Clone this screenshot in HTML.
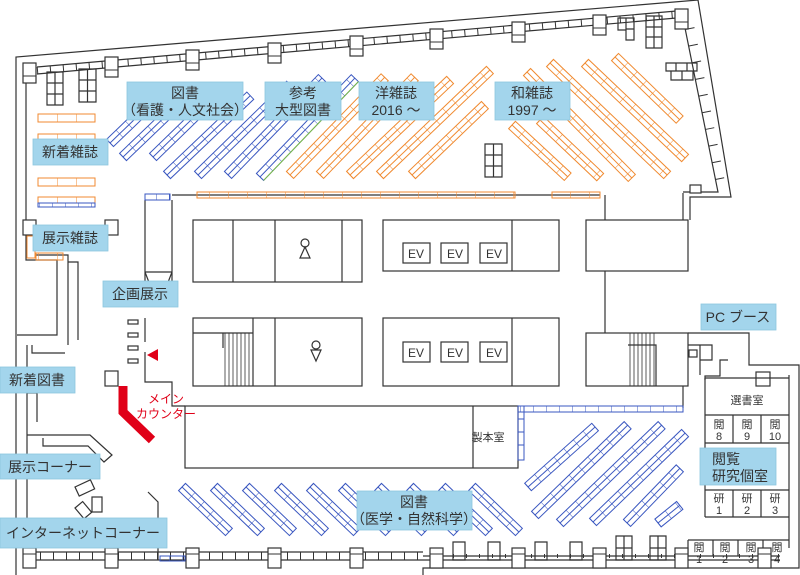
<!DOCTYPE html>
<html><head><meta charset="utf-8">
<style>
html,body{margin:0;padding:0;background:#fff;}
svg{display:block;font-family:"Liberation Sans","Noto Sans CJK JP",sans-serif;}
.w{fill:none;stroke:#333;stroke-width:1.2}
.lb{fill:#a3d5ec;stroke:#8cc6df;stroke-width:.8}
.t{fill:#333;font-size:14px;text-anchor:middle}
.s{fill:#333;font-size:11px;text-anchor:middle}
.b{fill:url(#pB);stroke:#3a57c0;stroke-width:1}
.o{fill:url(#pO);stroke:#f08a30;stroke-width:1}
.b6{fill:url(#pB6);stroke:#3a57c0;stroke-width:1}
.o6{fill:url(#pO6);stroke:#f08a30;stroke-width:1}
.p{fill:#fff;stroke:#333;stroke-width:1.2}
</style></head><body>
<svg width="800" height="575" viewBox="0 0 800 575" xmlns="http://www.w3.org/2000/svg">
<defs>
<pattern id="pB" patternUnits="userSpaceOnUse" x="0" y="-5" width="13" height="10"><path d="M0,0 V10 M0,5 H13" stroke="#3a57c0" stroke-width="1" fill="none"/></pattern>
<pattern id="pO" patternUnits="userSpaceOnUse" x="0" y="-5" width="13" height="10"><path d="M0,0 V10 M0,5 H13" stroke="#f08a30" stroke-width="1" fill="none"/></pattern>
<pattern id="pB6" patternUnits="userSpaceOnUse" x="0" y="0" width="13" height="6"><path d="M0,0 V6" stroke="#3a57c0" stroke-width="1"/></pattern>
<pattern id="pO6" patternUnits="userSpaceOnUse" x="0" y="0" width="19" height="8"><path d="M0,0 V8" stroke="#f08a30" stroke-width="1"/></pattern>
</defs>
<g class="w">
<path d="M16,575 V57 L698,0 L731,197 H690 V220"/>
<path d="M683,193 V220"/>
<path d="M688,333 H749 V365 H799 V568 H423 V575"/>
<path d="M37,67 L688,10"/>
<path d="M37,74 L688,17"/>
<path d="M685,28 L718,192 H683"/>
<path d="M26,83 V260 H57 V335 H17"/>
<path d="M36,255 H68 V345"/>
<path d="M68,262 H78 V340"/>
<path d="M32,345 V353 H65"/>
<path d="M27,345 V560 H440"/>
<path d="M27,393 H37 V422"/>
<path d="M27,435 H90 L112,455 L104,462 L88,446 H43 V438"/>
<path d="M148,492 L158,502 V560"/>
<path d="M27,552 H423"/>
<path d="M423,556 H780"/>
<path d="M440,560 H780"/>
<path d="M172,195 H600"/>
<path d="M145,200 V285 M172,200 V285"/>
<path d="M145,272 L150,285 M172,272 L167,285 M145,272 H172"/>
<path d="M145,318 V342 M145,352 V382 H172 V406 H185"/>
<path d="M605,195 V220 M605,271 V333"/>
<rect x="193" y="220" width="169" height="62"/>
<path d="M233,220 V282 M275,220 V282 M342,220 V282"/>
<rect x="383" y="220" width="176" height="51"/>
<path d="M512,220 V271"/>
<rect x="586" y="220" width="102" height="51"/>
<rect x="193" y="318" width="169" height="68"/>
<path d="M193,333 H253 M223,333 V348 M253,318 V386 M275,318 V386"/>
<path d="M225,333 V386 M229,333 V386 M233,333 V386 M237,333 V386 M241,333 V386 M245,333 V386 M249,333 V386" stroke-width=".8"/>
<rect x="383" y="318" width="176" height="68"/>
<path d="M512,318 V386"/>
<rect x="586" y="333" width="102" height="53"/>
<path d="M628,345 H656 V386"/>
<path d="M630,333 V386 M634,333 V386 M638,333 V386 M642,333 V386 M646,333 V386 M650,333 V386 M654,333 V386" stroke-width=".8"/>
<rect x="185" y="406" width="333" height="62"/>
<path d="M473,406 V468"/>
<path d="M683,386 V408"/>
<path d="M688,345 H712 V360 H700 V375 M700,345 V360 M728,360 H720 V376 H705 V380"/>
<rect x="689" y="350" width="8" height="7"/>
<path d="M789,375 V548 M705,378 V517 M705,378 H789"/>
<rect x="756" y="372" width="14" height="14"/>
<path d="M705,415 H789 M705,443 H789 M733,415 V443 M761,415 V443"/>
<path d="M705,490 H789 M705,517 H789 M733,490 V517 M761,490 V517"/>
<path d="M688,540 H789 M688,540 V556 M713,540 V556 M738,540 V556 M763,540 V556"/>
<path d="M47,72 h16 v33 h-16 z M55,72 v33 M47,83 h16 M47,94 h16"/>
<path d="M79,69 h17 v33 h-17 z M87.5,69 v33 M79,80 h17 M79,91 h17"/>
<path d="M485,144 h17 v33 h-17 z M493.5,144 v33 M485,155 h17 M485,166 h17"/>
<path d="M646,16 h16 v32 h-16 z M654,16 v32 M646,27 h16 M646,37 h16"/>
<path d="M618,18 h8 v12 h-8 z M626,18 h8 v22 h-8 z M626,29 h8"/>
<path d="M666,63 h31 v8 h-31 z M676,63 v8 M687,63 v8 M671,71 h22 v9 h-22 z M682,71 v9"/>
<path d="M616,536 h16 v24 h-16 z M624,536 v24 M616,548 h16 M650,536 h16 v24 h-16 z M658,536 v24 M650,548 h16"/>
<path d="M453,542 h12 v18 h-12 z M488,542 h12 v18 h-12 z M535,542 h12 v18 h-12 z M570,542 h12 v18 h-12 z"/>
<rect x="75" y="487" width="17" height="10" transform="rotate(-25 75 487)"/>
<rect x="92" y="497" width="10" height="15"/>
<rect x="75" y="508" width="10" height="14" transform="rotate(-40 75 508)"/>
<rect x="128" y="320" width="10" height="4"/><rect x="128" y="333" width="10" height="4"/><rect x="128" y="346" width="10" height="4"/><rect x="128" y="359" width="10" height="4"/>
</g>
<path d="M37,70.5 L688,13.5" stroke="#333" stroke-width="7" stroke-dasharray="1 12" fill="none"/>
<path d="M27,556 H423" stroke="#333" stroke-width="8" stroke-dasharray="1 12" fill="none"/>
<path d="M440,556 H780" stroke="#333" stroke-width="4" stroke-dasharray="1 12" fill="none"/>
<path d="M690,28 L722,190" stroke="#333" stroke-width="9" stroke-dasharray="1 16" fill="none"/>
<g class="p">
<rect x="23" y="63" width="13" height="20"/><rect x="105" y="57" width="13" height="20"/><rect x="186" y="50" width="13" height="20"/>
<rect x="268" y="43" width="13" height="20"/><rect x="350" y="36" width="13" height="20"/><rect x="430" y="29" width="13" height="20"/>
<rect x="512" y="22" width="13" height="20"/><rect x="593" y="15" width="13" height="20"/><rect x="675" y="9" width="13" height="20"/>
<rect x="23" y="548" width="13" height="20"/><rect x="105" y="548" width="13" height="20"/><rect x="186" y="548" width="13" height="20"/>
<rect x="268" y="548" width="13" height="20"/><rect x="350" y="548" width="13" height="20"/><rect x="430" y="548" width="13" height="20"/>
<rect x="512" y="548" width="13" height="20"/><rect x="593" y="548" width="13" height="20"/><rect x="675" y="548" width="13" height="20"/>
<rect x="758" y="548" width="13" height="20"/>
<rect x="105" y="371" width="13" height="15"/>
<rect x="690" y="185" width="11" height="8"/>
<rect x="23" y="220" width="13" height="15"/><rect x="105" y="220" width="13" height="15"/>
</g>
<path d="M23,76 h13 M105,70 h13 M186,63 h13 M268,56 h13 M350,49 h13 M430,42 h13 M512,35 h13 M593,28 h13 M675,22 h13" stroke="#333" fill="none"/>
<path d="M23,554 h13 M105,554 h13 M186,554 h13 M268,554 h13 M350,554 h13 M430,554 h13 M512,554 h13 M593,554 h13 M675,554 h13 M758,554 h13" stroke="#333" fill="none"/>
<rect class="b" x="0" y="-5" width="76" height="10" transform="translate(110,143) rotate(-43.9)"/>
<rect class="b" x="0" y="-5" width="100" height="10" transform="translate(123,157) rotate(-43.8)"/>
<rect class="b" x="0" y="-5" width="96" height="10" transform="translate(153,157) rotate(-44.2)"/>
<rect class="b" x="0" y="-5" width="115" height="10" transform="translate(167,175) rotate(-43.6)"/>
<rect class="b" x="0" y="-5" width="129" height="10" transform="translate(198,175) rotate(-44.4)"/>
<rect class="b" x="0" y="-5" width="135" height="10" transform="translate(228,175) rotate(-45.9)"/>
<rect class="b" x="0" y="-5" width="137" height="10" transform="translate(260,177) rotate(-46.2)"/>
<line x1="0" y1="5" x2="137" y2="5" stroke="#7cc040" transform="translate(260,177) rotate(-46.2)"/>
<rect class="o" x="0" y="-5" width="136" height="10" transform="translate(290,175) rotate(-45.9)"/>
<rect class="o" x="0" y="-5" width="136" height="10" transform="translate(320,175) rotate(-45.9)"/>
<rect class="o" x="0" y="-5" width="138" height="10" transform="translate(350,175) rotate(-43.5)"/>
<rect class="o" x="0" y="-5" width="152" height="10" transform="translate(380,175) rotate(-43.7)"/>
<rect class="o" x="0" y="-5" width="101" height="10" transform="translate(412,175) rotate(-43.8)"/>
<rect class="o" x="0" y="-5" width="76" height="10" transform="translate(512,125) rotate(42.9)"/>
<rect class="o" x="0" y="-5" width="83" height="10" transform="translate(540,120) rotate(43.5)"/>
<rect class="o" x="0" y="-5" width="149" height="10" transform="translate(527,72) rotate(45.3)"/>
<rect class="o" x="0" y="-5" width="162" height="10" transform="translate(550,63) rotate(43.7)"/>
<rect class="o" x="0" y="-5" width="138" height="10" transform="translate(585,63) rotate(43.5)"/>
<rect class="o" x="0" y="-5" width="90" height="10" transform="translate(615,57) rotate(44.1)"/>
<rect class="b" x="0" y="-5" width="65" height="10" transform="translate(182,487) rotate(43.8)"/>
<rect class="b" x="0" y="-5" width="65" height="10" transform="translate(214,487) rotate(43.8)"/>
<rect class="b" x="0" y="-5" width="65" height="10" transform="translate(246,487) rotate(43.8)"/>
<rect class="b" x="0" y="-5" width="65" height="10" transform="translate(278,487) rotate(43.8)"/>
<rect class="b" x="0" y="-5" width="65" height="10" transform="translate(310,487) rotate(43.8)"/>
<rect class="b" x="0" y="-5" width="65" height="10" transform="translate(342,487) rotate(43.8)"/>
<rect class="b" x="0" y="-5" width="65" height="10" transform="translate(378,487) rotate(43.8)"/>
<rect class="b" x="0" y="-5" width="65" height="10" transform="translate(410,487) rotate(43.8)"/>
<rect class="b" x="0" y="-5" width="65" height="10" transform="translate(442,487) rotate(43.8)"/>
<rect class="b" x="0" y="-5" width="65" height="10" transform="translate(472,487) rotate(43.8)"/>
<rect class="b" x="0" y="-5" width="90" height="10" transform="translate(528,487) rotate(-41.8)"/>
<rect class="b" x="0" y="-5" width="129" height="10" transform="translate(535,515) rotate(-44.1)"/>
<rect class="b" x="0" y="-5" width="141" height="10" transform="translate(560,523) rotate(-43.9)"/>
<rect class="b" x="0" y="-5" width="128" height="10" transform="translate(593,522) rotate(-44)"/>
<rect class="b" x="0" y="-5" width="76" height="10" transform="translate(627,523) rotate(-46)"/>
<rect class="b" x="0" y="-5" width="28" height="10" transform="translate(658,523) rotate(-39)"/>
<rect class="o6" x="38" y="114" width="57" height="8"/>
<rect class="o6" x="38" y="134" width="57" height="8"/>
<rect class="o6" x="38" y="178" width="57" height="8"/>
<rect class="o6" x="38" y="197" width="57" height="6"/>
<rect class="b6" x="38" y="203" width="57" height="4"/>
<rect class="o6" x="27" y="236" width="8" height="22"/>
<rect class="o6" x="36" y="253" width="27" height="7"/>
<rect class="o6" x="197" y="192" width="318" height="6"/>
<rect class="o6" x="552" y="192" width="48" height="6"/>
<rect class="b6" x="145" y="194" width="25" height="6"/>
<rect class="b6" x="518" y="406" width="165" height="6"/>
<rect x="518" y="406" width="6" height="54" fill="none" stroke="#3a57c0"/>
<path d="M518,419 h6 M518,432 h6 M518,445 h6" stroke="#3a57c0"/>
<rect class="b6" x="160" y="556" width="25" height="5"/>
<g class="w">
<circle cx="305" cy="243" r="4"/><path d="M305,247 L300,258 H310 Z"/>
<circle cx="316" cy="345" r="4"/><path d="M311,350 H321 L316,361 Z"/>
<rect x="403" y="243" width="27" height="20"/><rect x="441" y="243" width="27" height="20"/><rect x="480" y="243" width="27" height="20"/>
<rect x="403" y="342" width="27" height="20"/><rect x="441" y="342" width="27" height="20"/><rect x="480" y="342" width="27" height="20"/>
</g>
<g font-size="12" fill="#333" text-anchor="middle">
<text x="416" y="258">EV</text><text x="455" y="258">EV</text><text x="494" y="258">EV</text>
<text x="416" y="357">EV</text><text x="455" y="357">EV</text><text x="494" y="357">EV</text>
</g>
<path d="M123,386 V412 L152,440" fill="none" stroke="#e00018" stroke-width="9"/>
<path d="M147,355 L158,349 V361 Z" fill="#e00018"/>
<text x="166" y="403" font-size="12" fill="#e00018" text-anchor="middle">メイン</text>
<text x="166" y="418" font-size="12" fill="#e00018" text-anchor="middle">カウンター</text>
<text x="488" y="441" class="s">製本室</text>
<text x="747" y="404" class="s">選書室</text>
<g class="s">
<text x="719" y="428">閲</text><text x="719" y="440">8</text>
<text x="747" y="428">閲</text><text x="747" y="440">9</text>
<text x="775" y="428">閲</text><text x="775" y="440">10</text>
<text x="719" y="502">研</text><text x="719" y="514">1</text>
<text x="747" y="502">研</text><text x="747" y="514">2</text>
<text x="775" y="502">研</text><text x="775" y="514">3</text>
<text x="699" y="551">閲</text><text x="699" y="563">1</text>
<text x="725" y="551">閲</text><text x="725" y="563">2</text>
<text x="751" y="551">閲</text><text x="751" y="563">3</text>
<text x="777" y="551">閲</text><text x="777" y="563">4</text>
</g>
<g>
<rect class="lb" x="127" y="82" width="116" height="38"/><text class="t" x="185" y="98">図書</text><text class="t" x="185" y="115">（看護・人文社会）</text>
<rect class="lb" x="265" y="82" width="76" height="38"/><text class="t" x="303" y="98">参考</text><text class="t" x="303" y="115">大型図書</text>
<rect class="lb" x="359" y="82" width="75" height="38"/><text class="t" x="396" y="98">洋雑誌</text><text class="t" x="396" y="115">2016 ～</text>
<rect class="lb" x="495" y="82" width="75" height="38"/><text class="t" x="532" y="98">和雑誌</text><text class="t" x="532" y="115">1997 ～</text>
<rect class="lb" x="33" y="139" width="75" height="26"/><text class="t" x="70" y="157">新着雑誌</text>
<rect class="lb" x="33" y="225" width="75" height="26"/><text class="t" x="70" y="243">展示雑誌</text>
<rect class="lb" x="103" y="281" width="75" height="26"/><text class="t" x="140" y="299">企画展示</text>
<rect class="lb" x="0" y="367" width="75" height="26"/><text class="t" x="37" y="385">新着図書</text>
<rect class="lb" x="0" y="454" width="100" height="25"/><text class="t" x="50" y="472">展示コーナー</text>
<rect class="lb" x="0" y="518" width="167" height="30"/><text class="t" x="83" y="538">インターネットコーナー</text>
<rect class="lb" x="357" y="491" width="115" height="39"/><text class="t" x="414" y="507">図書</text><text class="t" x="414" y="524">（医学・自然科学）</text>
<rect class="lb" x="701" y="304" width="75" height="26"/><text class="t" x="738" y="322">PC ブース</text>
<rect class="lb" x="700" y="448" width="76" height="37"/><text x="712" y="464" font-size="14" fill="#333">閲覧</text><text x="712" y="481" font-size="14" fill="#333">研究個室</text>
</g>
</svg>
</body></html>
